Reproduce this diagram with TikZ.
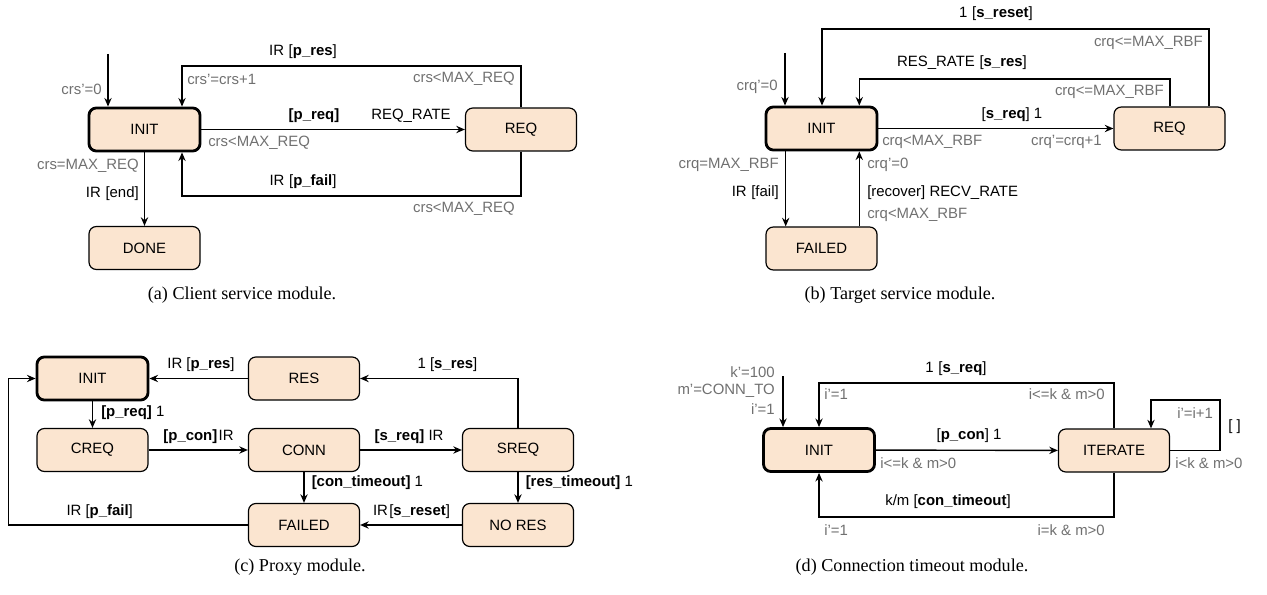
\documentclass[tikz,border=0pt]{standalone}
\usepackage{fontspec}
\setmainfont{Liberation Sans}
\newfontfamily\capserif{Liberation Serif}
\usetikzlibrary{arrows.meta}
\definecolor{stfill}{RGB}{251,229,208}
\definecolor{labgray}{RGB}{112,112,112}
\newcommand{\labf}{\fontsize{11.2}{13}\selectfont}
\newcommand{\capf}{\capserif\fontsize{13.6}{16}\selectfont}
\newcommand{\sep}{\hspace{3.5pt}}
\tikzset{
  st/.style={draw=black, line width=0.9pt, fill=stfill, rounded corners=5.5pt,
    minimum width=83.25pt, minimum height=32.25pt, inner sep=0pt, font=\labf},
  stI/.style={st, line width=2.1pt},
  arr/.style={line width=1.05pt, -{Stealth[length=6.5pt,width=5.5pt,inset=2.2pt]}},
  lb/.style={inner sep=0pt, font=\labf, text=black},
  gl/.style={lb, text=labgray},
  capt/.style={inner sep=0pt, font=\capf}
}
\begin{document}
\begin{tikzpicture}[x=0.75pt,y=-0.75pt]
\useasboundingbox (0,0) rectangle (1267,595);
% ================= (a) =================
\node[stI] (aI) at (144.5,129.5) {INIT};
\node[st]  (aR) at (521,129.5) {REQ};
\node[st]  (aD) at (144.5,248) {DONE};
\coordinate (a0) at (108,54);
\draw[arr] (a0) -- (a0 |- aI.north);
\node[gl,anchor=east] at (102,89) {crs'=0};
\coordinate (a1) at (182,66);
\draw[arr] (aR.north) |- (a1) -- (a1 |- aI.north);
\node[lb] at (303,52) {IR\sep[\textbf{p\_res}]};
\node[gl,anchor=west] at (187,79) {crs'=crs+1};
\node[gl,anchor=east] at (515,79) {crs<MAX\_REQ};
\draw[arr] (aI) -- (aR);
\node[lb] at (314,116) {\textbf{[p\_req]}};
\node[lb] at (411,116) {REQ\_RATE};
\node[gl,anchor=west] at (208,143) {crs<MAX\_REQ};
\coordinate (a2) at (182,196);
\draw[arr] (aR.south) |- (a2) -- (a2 |- aI.south);
\node[lb] at (303,182) {IR\sep[\textbf{p\_fail}]};
\node[gl,anchor=east] at (515,209) {crs<MAX\_REQ};
\draw[arr] (aI) -- (aD);
\node[gl,anchor=east] at (139,166) {crs=MAX\_REQ};
\node[lb,anchor=east] at (139,194) {IR\sep[end]};
\node[capt] at (242,295) {(a) Client service module.};
% ================= (b) =================
\node[stI] (bI) at (821.5,128.5) {INIT};
\node[st]  (bR) at (1169.5,128.5) {REQ};
\node[st]  (bF) at (821.5,248.5) {FAILED};
\coordinate (b0) at (785,53);
\draw[arr] (b0) -- (b0 |- bI.north);
\node[gl,anchor=east] at (778,87) {crq'=0};
\coordinate (bo) at (1209,29);
\coordinate (b1) at (822,29);
\draw[arr] (bo |- bR.north) -- (bo) -- (b1) -- (b1 |- bI.north);
\node[lb] at (996,14) {1\sep[\textbf{s\_reset}]};
\node[gl,anchor=east] at (1203,43) {crq<=MAX\_RBF};
\coordinate (bi) at (1170,79);
\coordinate (b2) at (859.3,79);
\draw[arr] (bi |- bR.north) -- (bi) -- (b2) -- (b2 |- bI.north);
\node[lb] at (962,63) {RES\_RATE\sep[\textbf{s\_res}]};
\node[gl,anchor=east] at (1164,92) {crq<=MAX\_RBF};
\draw[arr] (bI) -- (bR);
\node[lb] at (1012,115) {[\textbf{s\_req}] 1};
\node[gl,anchor=west] at (882,142) {crq<MAX\_RBF};
\node[gl,anchor=east] at (1102,142) {crq'=crq+1};
\coordinate (b3) at (785.7,200);
\draw[arr] (b3 |- bI.south) -- (b3 |- bF.north);
\node[gl,anchor=east] at (779,165) {crq=MAX\_RBF};
\node[lb,anchor=east] at (779,193) {IR\sep[fail]};
\coordinate (b4) at (859.3,200);
\draw[arr] (b4 |- bF.north) -- (b4 |- bI.south);
\node[gl,anchor=west] at (867,165) {crq'=0};
\node[lb,anchor=west] at (867,193) {[recover] RECV\_RATE};
\node[gl,anchor=west] at (867,215) {crq<MAX\_RBF};
\node[capt] at (900,295) {(b) Target service module.};
% ================= (c) =================
\node[stI] (cI) at (92.5,378.5) {INIT};
\node[st]  (cR) at (304,378.5) {RES};
\node[st]  (cC) at (92.5,450) {CREQ};
\node[st]  (cN) at (304,450) {CONN};
\node[st]  (cS) at (518,450) {SREQ};
\node[st]  (cF) at (304,525) {FAILED};
\node[st]  (cO) at (518,525) {NO RES};
\draw[arr] (cR) -- (cI);
\node[lb] at (201,365) {IR [\textbf{p\_res}]};
\draw[arr] (cS.north) |- (cR.east);
\node[lb] at (447.5,365) {1 [\textbf{s\_res}]};
\draw[arr] (cI) -- (cC);
\node[lb,anchor=west] at (101,413) {\textbf{[p\_req]} 1};
\draw[arr] (cC) -- (cN);
\node[lb] at (198.5,437) {\textbf{[p\_con]}\hspace{1pt}IR};
\draw[arr] (cN) -- (cS);
\node[lb] at (409,437) {\textbf{[s\_req]} IR};
\draw[arr] (cN) -- (cF);
\node[lb,anchor=west] at (311.5,483) {\textbf{[con\_timeout]} 1};
\draw[arr] (cS) -- (cO);
\node[lb,anchor=west] at (525.5,483) {\textbf{[res\_timeout]} 1};
\draw[arr] (cO) -- (cF);
\node[lb] at (411.5,512) {IR\hspace{1pt}[\textbf{s\_reset}]};
\coordinate (c1) at (8.3,525);
\draw[arr] (cF.west) -- (c1) |- (cI.west);
\node[lb] at (99.7,512) {IR [\textbf{p\_fail}]};
\node[capt] at (300,567) {(c) Proxy module.};
% ================= (d) =================
\node[stI] (dI) at (819,450) {INIT};
\node[st]  (dT) at (1114,450.5) {ITERATE};
\coordinate (d0) at (783,376);
\draw[arr] (d0) -- (d0 |- dI.north);
\node[gl,anchor=east] at (775,372) {k'=100};
\node[gl,anchor=east] at (775,391) {m'=CONN\_TO};
\node[gl,anchor=east] at (775,409) {i'=1};
\coordinate (d1) at (819,383);
\draw[arr] (dT.north) |- (d1) -- (dI.north);
\node[lb] at (956,369) {1\sep[\textbf{s\_req}]};
\node[gl,anchor=west] at (824,394) {i'=1};
\node[gl,anchor=east] at (1105,394) {i<=k \& m>0};
\draw[arr] (dI) -- (dT);
\node[lb] at (969,436) {[\textbf{p\_con}] 1};
\node[gl,anchor=west] at (880,463) {i<=k \& m>0};
\coordinate (d2) at (1220,400);
\coordinate (d3) at (1151,400);
\draw[arr] (dT.east) -| (d2) -- (d3) -- (d3 |- dT.north);
\node[gl,anchor=west] at (1177,413) {i'=i+1};
\node[lb,anchor=west] at (1228,427) {[ ]};
\node[gl,anchor=west] at (1175,463) {i<k \& m>0};
\coordinate (d4) at (819,517);
\draw[arr] (dT.south) |- (d4) -- (dI.south);
\node[lb] at (948,502) {k/m [\textbf{con\_timeout}]};
\node[gl,anchor=west] at (824,530) {i'=1};
\node[gl,anchor=east] at (1105,530) {i=k \& m>0};
\node[capt] at (912,567) {(d) Connection timeout module.};
\end{tikzpicture}
\end{document}
